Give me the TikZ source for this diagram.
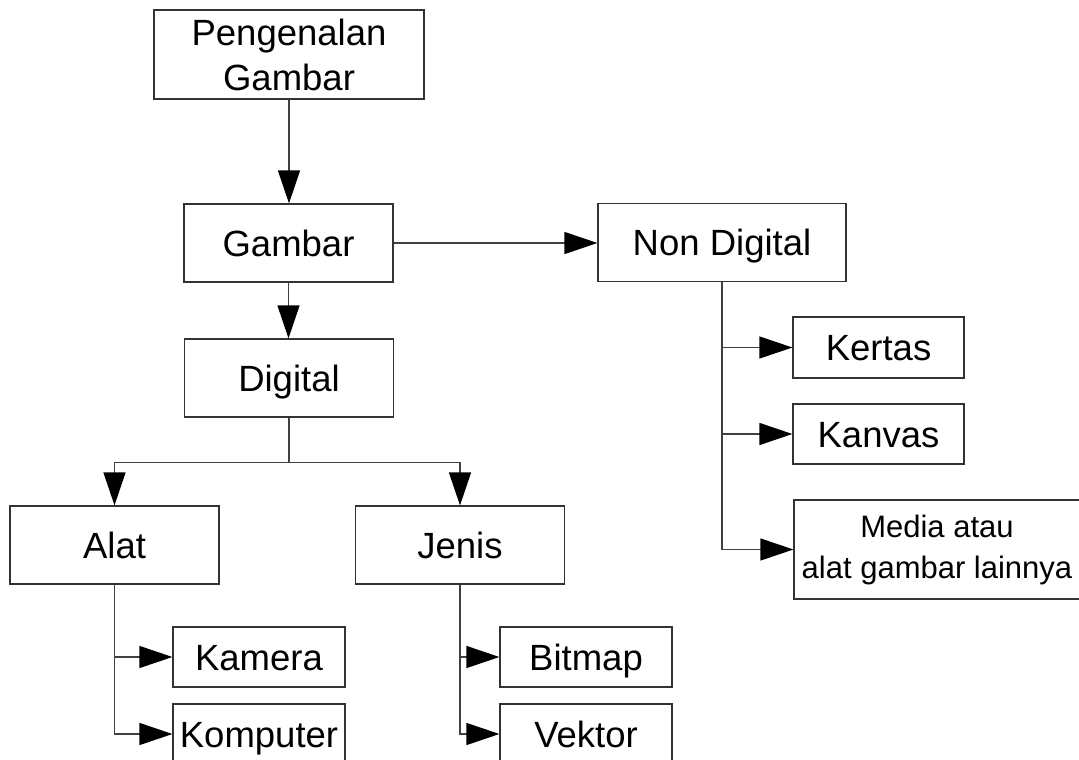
\documentclass[tikz,border=0pt]{standalone}
\usepackage{fontspec}
\setmainfont{Liberation Sans}
\usetikzlibrary{arrows.meta}
\begin{document}
\begin{tikzpicture}[x=1pt,y=-1pt,
  box/.style={draw=black!80,line width=1.2pt,rectangle,inner sep=0pt,
    font=\fontsize{36.5pt}{44pt}\selectfont,text height=26pt,text depth=0pt},
  bigbox/.style={box,minimum width=209pt,minimum height=78pt},
  smallbox/.style={box,minimum width=172pt,minimum height=60pt},
  mbox/.style={draw=black!80,line width=1.2pt,rectangle,inner sep=0pt,align=center},
  conn/.style={draw=black!75,line width=1.2pt,
    -{Triangle[length=33pt,width=22pt,color=black]}}]
\useasboundingbox (0,0) rectangle (1079,760);
\node[mbox,minimum width=270pt,minimum height=89pt,
  font=\fontsize{36.5pt}{45pt}\selectfont] (pg) at (289,54.5) {Pengenalan\\Gambar};
\node[bigbox] (gb) at (288.5,243) {Gambar};
\node[bigbox,minimum width=248pt] (nd) at (722,242.5) {Non Digital};
\node[bigbox] (dg) at (289,378) {Digital};
\node[bigbox] (al) at (114.5,545) {Alat};
\node[bigbox] (jn) at (460,545) {Jenis};
\node[smallbox,minimum width=171pt,minimum height=61pt] (ke) at (878.5,347.5) {Kertas};
\node[smallbox,minimum width=171pt] (ka) at (878.5,434) {Kanvas};
\node[mbox,minimum width=286pt,minimum height=99pt,
  font=\fontsize{31pt}{41pt}\selectfont] (md) at (937,549.5) {Media atau\\alat gambar lainnya};
\node[smallbox] (km) at (259,657) {Kamera};
\node[smallbox] (kp) at (259,734) {Komputer};
\node[smallbox] (bm) at (586,657) {Bitmap};
\node[smallbox] (vk) at (586,734) {Vektor};

\draw[conn] (pg.south) -- (pg.south |- gb.north);
\draw[conn] (gb.east) -- (gb.east -| nd.west);
\draw[conn] (gb.south) -- (gb.south |- dg.north);
\draw[conn] (dg.south) -- ++(0,45) -| (al.north);
\draw[conn] (dg.south) -- ++(0,45) -| (jn.north);
\draw[conn] (nd.south) |- (ke.west);
\draw[conn] (nd.south) |- (ka.west);
\draw[conn] (nd.south) |- (md.west);
\draw[conn] (al.south) |- (km.west);
\draw[conn] (al.south) |- (kp.west);
\draw[conn] (jn.south) |- (bm.west);
\draw[conn] (jn.south) |- (vk.west);
\end{tikzpicture}
\end{document}
